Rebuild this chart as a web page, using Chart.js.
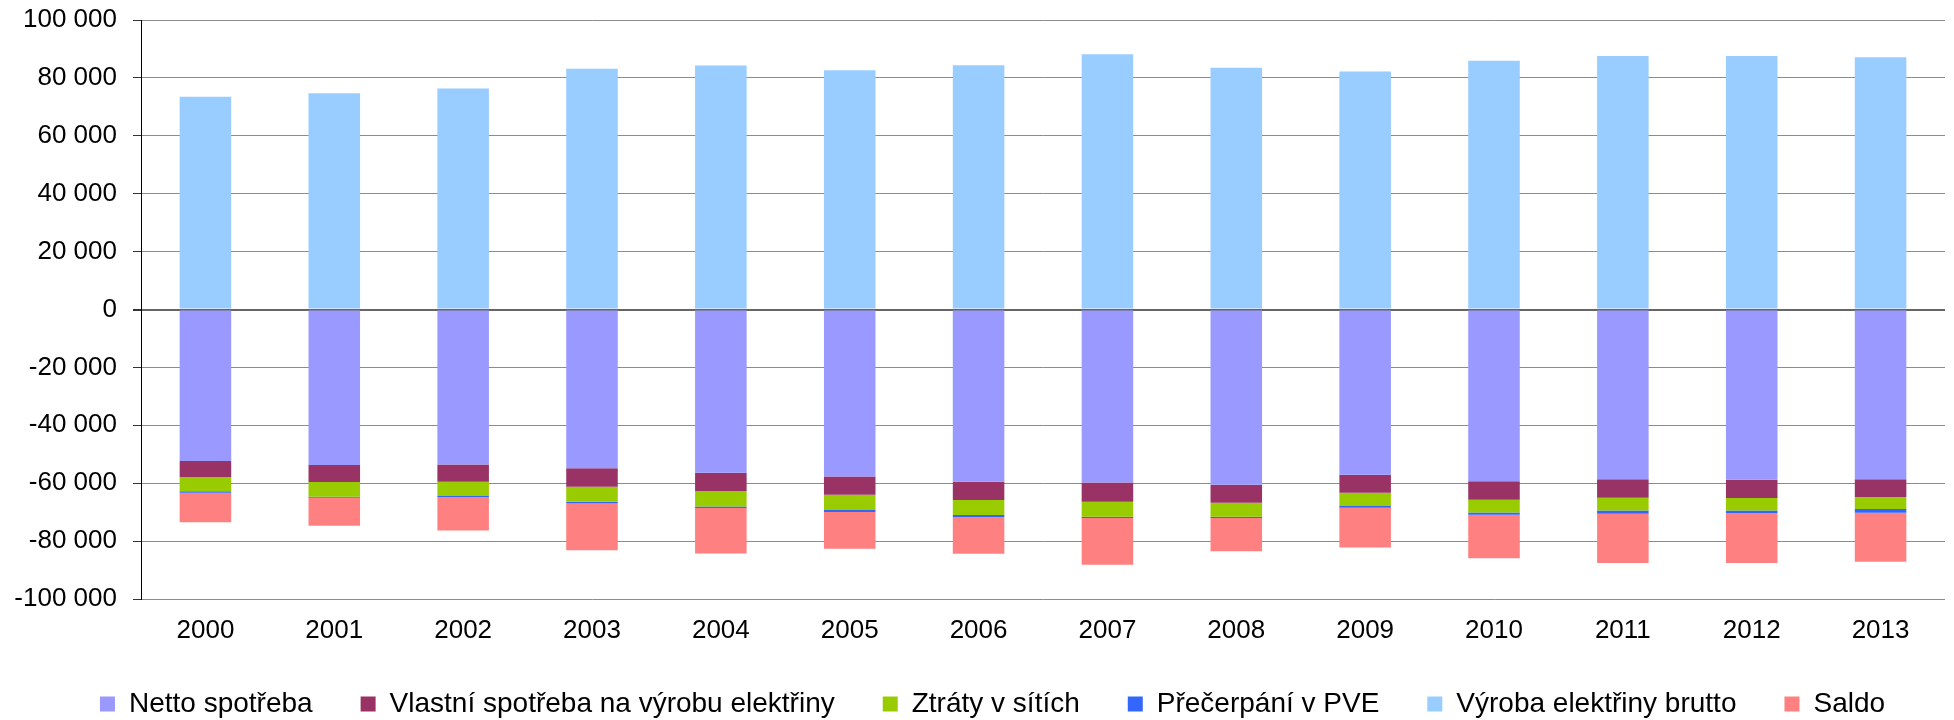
<!DOCTYPE html>
<html lang="cs">
<head>
<meta charset="utf-8">
<script src="https://cdn.jsdelivr.net/npm/chart.js@4"></script>
<style>
  html, body { margin: 0; padding: 0; background: #fff; }
  #box { width: 1954px; height: 720px; }
</style>
</head>
<body>
<div id="box"><canvas id="graficoBilance"></canvas></div>
<script>
// roky
const roky = ['2000', '2001', '2002', '2003', '2004', '2005', '2006', '2007', '2008', '2009', '2010', '2011', '2012', '2013'];

// hodnoty v GWh
const nettoSpotreba = [-52300, -53700, -53560, -54830, -56430, -57690, -59530, -59760, -60560, -57120, -59300, -58610, -58840, -58610];
const vlastniSpotreba = [-5620, -5850, -5970, -6420, -6310, -6310, -6310, -6650, -6200, -6190, -6420, -6420, -6310, -6190];
const ztratyVSitich = [-4820, -5160, -4930, -5160, -5280, -5280, -5160, -5160, -4810, -4590, -4360, -4360, -4240, -4130];
const precerpaniPVE = [-560, -340, -340, -570, -570, -690, -690, -460, -460, -580, -810, -1150, -920, -1260];
const vyrobaBrutto = [73500, 74700, 76300, 83200, 84300, 82600, 84400, 88200, 83500, 82200, 85900, 87600, 87600, 87100];
const saldo = [-10200, -9650, -11500, -16220, -15710, -12630, -12710, -16170, -11470, -13720, -15010, -17060, -17290, -16910];

// osa Y
const osaYMin = -100000;
const osaYMax = 100000;
const osaYKrok = 20000;

const formatCislo = v => {
    const s = Math.abs(v).toString().replace(/\B(?=(\d{3})+(?!\d))/g, ' ');
    return (v < 0 ? '-' : '') + s;
};

// legenda: velké mezery mezi položkami, nižší box a posun doprava
const legendaUprava = {
    id: 'legendaUprava',
    beforeInit(chart) {
        const legenda = chart.legend;
        const puvodniFit = legenda.fit;
        legenda.fit = function () {
            puvodniFit.bind(legenda)();
            this.height = 78;
        };
        const puvodniDraw = legenda.draw;
        legenda.draw = function (...args) {
            const c = chart.ctx;
            c.save();
            c.translate(20, 0);
            puvodniDraw.apply(legenda, args);
            c.restore();
        };
    }
};

const ctx = document.getElementById('graficoBilance').getContext('2d');
Chart.defaults.font.family = '"Liberation Sans", Arial, sans-serif';
Chart.defaults.color = '#000';

new Chart(ctx, {
    type: 'bar',
    data: {
        labels: roky,
        datasets: [
            { label: 'Netto spotřeba', data: nettoSpotreba, backgroundColor: '#9999FF' },
            { label: 'Vlastní spotřeba na výrobu elektřiny', data: vlastniSpotreba, backgroundColor: '#993366' },
            { label: 'Ztráty v sítích', data: ztratyVSitich, backgroundColor: '#99CC00' },
            { label: 'Přečerpání v PVE', data: precerpaniPVE, backgroundColor: '#3366FF' },
            { label: 'Výroba elektřiny brutto', data: vyrobaBrutto, backgroundColor: '#99CCFF' },
            { label: 'Saldo', data: saldo, backgroundColor: '#FF8080' }
        ]
    },
    options: {
        responsive: true,
        maintainAspectRatio: false,
        animation: false,
        layout: { padding: { top: 20, right: 9, left: 0, bottom: 0 } },
        datasets: {
            bar: { categoryPercentage: 1, barPercentage: 0.4, borderWidth: 0 }
        },
        scales: {
            x: {
                stacked: true,
                grid: { display: false, drawTicks: false },
                border: { display: false },
                ticks: { font: { size: 26 }, padding: 16, maxRotation: 0 },
                afterFit: scale => { scale.height = 43; }
            },
            y: {
                stacked: true,
                min: osaYMin,
                max: osaYMax,
                ticks: {
                    stepSize: osaYKrok,
                    font: { size: 26 },
                    padding: 16,
                    callback: v => formatCislo(v)
                },
                grid: {
                    color: c => c.tick && c.tick.value === 0 ? '#666' : '#8c8c8c',
                    lineWidth: c => c.tick && c.tick.value === 0 ? 2 : 1,
                    tickColor: '#333',
                    tickLength: 8
                },
                border: { display: true, color: '#000', width: 1 },
                afterFit: scale => {
                    scale.width = 141;
                    scale.paddingTop = 10;
                }
            }
        },
        plugins: {
            legend: {
                position: 'bottom',
                labels: { boxWidth: 15, boxHeight: 15, padding: 48, font: { size: 28 } }
            },
            tooltip: { enabled: false }
        }
    },
    plugins: [legendaUprava]
});
</script>
</body>
</html>
